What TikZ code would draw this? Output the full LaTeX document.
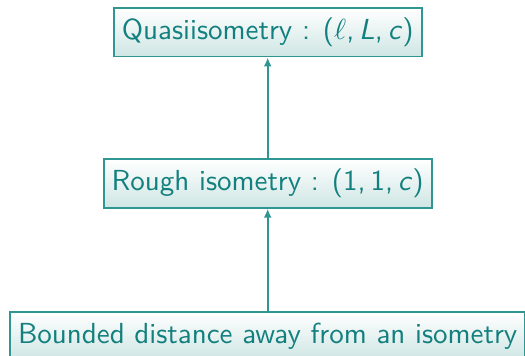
\documentclass[tikz,border=0pt]{standalone}
\usepackage{fontspec}
\renewcommand\familydefault{\sfdefault}
\usetikzlibrary{arrows.meta}
\definecolor{tealtext}{RGB}{18,128,126}
\definecolor{tealborder}{RGB}{48,150,148}
\definecolor{tealfill}{RGB}{206,230,228}
\newcommand\bigtxt[1]{\scalebox{2.9}{\fontsize{10}{12}\selectfont #1}}
\begin{document}
\begin{tikzpicture}[x=1pt,y=1pt,
  box/.style={draw=tealborder, line width=1.9pt, top color=white, bottom color=tealfill,
    text=tealtext, font=\sffamily, inner xsep=8pt,
    minimum height=48.5pt, anchor=center},
  conn/.style={draw=tealborder, line width=1.9pt, -{Latex[length=9pt,width=8pt]}}]
\useasboundingbox (0,0) rectangle (525,356);
\clip (0,0) rectangle (525,356);
\node[box] (q) at (267.7,323.7) {\bigtxt{Quasiisometry : (\ensuremath{\ell},\,\textit{L},\,\textit{c})}};
\node[box] (r) at (267.7,172.5) {\bigtxt{Rough isometry : (1,\,1,\,\textit{c})}};
\node[box] (b) at (267.7,20) {\bigtxt{Bounded distance away from an isometry}};
\draw[conn] (b.north) -- (r.south);
\draw[conn] (r.north) -- (q.south);
\end{tikzpicture}
\end{document}
